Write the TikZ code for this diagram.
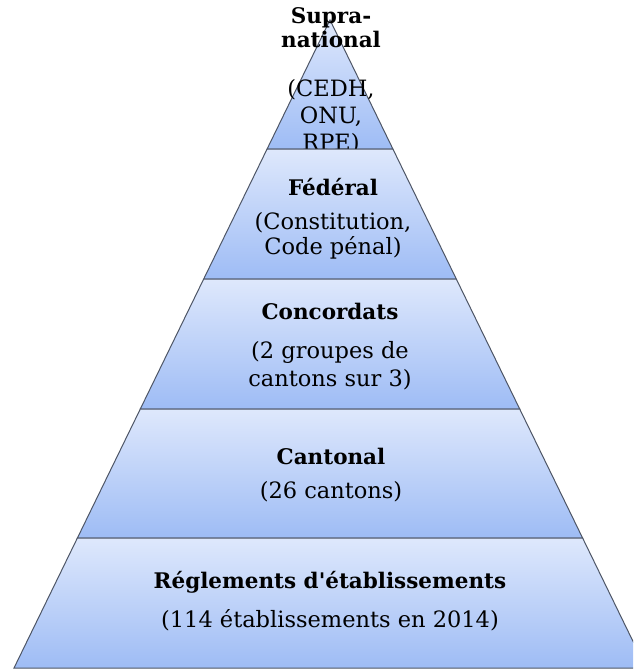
\documentclass[tikz,border=0pt]{standalone}
\usepackage{fontspec}
\setmainfont{DejaVu Serif}
\usetikzlibrary{positioning}

\definecolor{levtop}{RGB}{222,232,252}
\definecolor{levbot}{RGB}{158,188,245}
\definecolor{levline}{RGB}{78,86,102}

\begin{document}
\begin{tikzpicture}[
    x=1pt, y=-1pt,
    level/.style={top color=levtop, bottom color=levbot, draw=levline, line width=1pt},
    title/.style={font=\fontsize{21.5}{24}\selectfont\bfseries, align=center, inner sep=0pt},
    sub/.style={font=\fontsize{22.5}{25}\selectfont, align=center, inner sep=0pt}
]
    \useasboundingbox (0,0) rectangle (633,670);
    \clip (0,0) rectangle (633,670);

    % Pyramid corners
    \coordinate (apex) at (330,20);
    \coordinate (l1) at (267.1,149); \coordinate (r1) at (392.9,149);
    \coordinate (l2) at (203.7,279); \coordinate (r2) at (456.3,279);
    \coordinate (l3) at (140.3,409); \coordinate (r3) at (519.7,409);
    \coordinate (l4) at (77.4,538);  \coordinate (r4) at (582.6,538);
    \coordinate (l5) at (14,668);    \coordinate (r5) at (646,668);

    % Top level
    \path [level] (apex) -- (r1) -- (l1) -- cycle;
    \node [title] (supra) at (331,28) {Supra-\\national};
    \node [sub, font=\fontsize{22.5}{27}\selectfont] (supra-sub) at (331,117) {(CEDH,\\ONU,\\RPE)};

    % Lower levels
    \foreach \i/\j in {1/2, 2/3, 3/4, 4/5}
        \path [level] (l\i) -- (r\i) -- (r\j) -- (l\j) -- cycle;

    \node [title] (federal) at (333,187) {Fédéral};
    \node [sub] (federal-sub) at (333,236) {(Constitution,\\Code pénal)};
    \node [title] (concordats) at (330,311) {Concordats};
    \node [sub, font=\fontsize{22.5}{28}\selectfont] (concordats-sub) at (330,366) {(2 groupes de\\cantons sur 3)};
    \node [title] (cantonal) at (331,456) {Cantonal};
    \node [sub] (cantonal-sub) at (331,492) {(26 cantons)};
    \node [title] (reglements) at (330,582) {Réglements d\textquotesingle établissements};
    \node [sub] (reglements-sub) at (330,620) {(114 établissements en 2014)};
\end{tikzpicture}
\end{document}
